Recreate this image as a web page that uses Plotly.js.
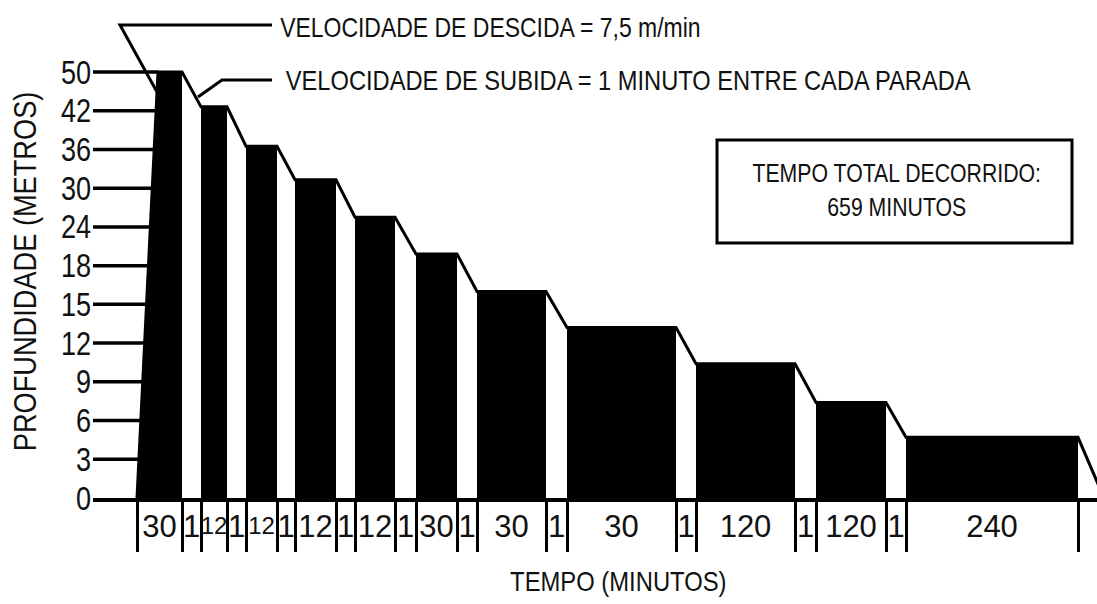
<!DOCTYPE html>
<html>
<head>
<meta charset="utf-8">
<script src="https://cdn.plot.ly/plotly-3.0.1.min.js"></script>
<style>
  html, body { margin: 0; padding: 0; background: #ffffff; }
  #chart { width: 1097px; height: 604px; }
</style>
</head>
<body>
<div id="chart"></div>
<script>
// ---- data ----
// depth tick labels of the (schematic, evenly spaced) depth axis
const depthTicks = [0, 3, 6, 9, 12, 15, 18, 24, 30, 36, 42, 50];
// segment labels along the time axis (minutes of each stop / ascent)
const segmentLabels = ['30','1','12','1','12','1','12','1','12','1','30','1','30','1','30','1','120','1','120','1','240','1'];
// schematic time positions of the segment boundaries (not to scale in the original)
const segmentEdges = [0, 45, 64, 90, 109, 140, 158, 199, 218, 258, 279, 320, 340, 409, 430, 539, 559, 658, 679, 749, 769, 941, 967];
// end of the descent on the schematic time axis
const descentEnd = 21;
// depth of each stop, as drawn
const stopDepths = [50, 42.8, 36.5, 31.3, 25.5, 19.8, 16.0, 13.2, 10.4, 7.4, 4.7];

// ---- helpers ----
const FONT = 'Liberation Sans, Arial, Helvetica, sans-serif';
const TXT = '#111111';
const W = 1097, H = 604, ML = 93, MR = 0, MT = 0, MB = 106;
const PW = W - ML - MR, PH = H - MT - MB;
const X0 = -44;                       // left end of schematic time axis
const PX_PER_LEVEL = 38.727;          // vertical spacing of depth ticks
const XFONT = 31, XFONT_SMALL = 24;   // time-axis label sizes (small one for the cramped slots)
function depthToLevel(d) {
  for (let i = 0; i < depthTicks.length - 1; i++) {
    const a = depthTicks[i], b = depthTicks[i + 1];
    if (d >= a && d <= b) return i + (d - a) / (b - a);
  }
  return depthTicks.length - 1;
}
const px2x = px => (px - ML) / PW;           // pixel -> paper x
const py2y = py => (H - MB - py) / PH;       // pixel -> paper y

const levels = stopDepths.map(depthToLevel);
const topLevel = levels[0];

// ---- black blocks (bottom time at each stop) ----
const fx = [], fy = [];
levels.forEach((L, k) => {
  const s = segmentEdges[2 * k], e = segmentEdges[2 * k + 1];
  if (k === 0) {
    fx.push(s, descentEnd, e, e, s, null);
  } else {
    fx.push(s, s, e, e, s, null);
  }
  fy.push(0, L, L, 0, 0, null);
});

// ---- profile line ----
const px = [segmentEdges[0], descentEnd], py = [0, topLevel];
levels.forEach((L, k) => {
  px.push(segmentEdges[2 * k + 1]); py.push(L);
  const nextL = k + 1 < levels.length ? levels[k + 1] : 0;
  px.push(segmentEdges[2 * k + 2]); py.push(nextL);
});

// ---- depth tick lines running up to the descent line ----
const tx = [], ty = [];
depthTicks.forEach((d, i) => {
  if (i === 0) return;
  tx.push(X0, descentEnd * i / topLevel, null);
  ty.push(i, i, null);
});

// ---- time axis tick labels: centred in each segment ----
const centers = segmentLabels.map((_, i) => (segmentEdges[i] + segmentEdges[i + 1]) / 2);
const slotWidths = segmentLabels.map((_, i) => segmentEdges[i + 1] - segmentEdges[i]);
const isCramped = segmentLabels.map((t, i) => 0.556 * XFONT * t.length > slotWidths[i]);
const wideVals = [], wideText = [], smallVals = [], smallText = [];
segmentLabels.forEach((t, i) => {
  if (isCramped[i]) { smallVals.push(centers[i]); smallText.push(t); }
  else { wideVals.push(centers[i]); wideText.push(t); }
});

const traces = [
  { type: 'scatter', mode: 'lines', x: fx, y: fy, fill: 'toself', fillcolor: '#000000',
    line: { width: 0, color: '#000000' }, hoverinfo: 'skip', showlegend: false },
  { type: 'scatter', mode: 'lines', x: tx, y: ty, line: { width: 3.5, color: '#000000' },
    hoverinfo: 'skip', showlegend: false, connectgaps: false },
  { type: 'scatter', mode: 'lines', x: px, y: py, line: { width: 3, color: '#000000' },
    hoverinfo: 'skip', showlegend: false },
  { type: 'scatter', mode: 'lines', x: [], y: [], xaxis: 'x2', yaxis: 'y',
    hoverinfo: 'skip', showlegend: false },
  { type: 'scatter', mode: 'lines', x: [], y: [], xaxis: 'x3', yaxis: 'y',
    hoverinfo: 'skip', showlegend: false }
];

// each annotation: text, centre (px), size, horizontal squeeze to mimic the condensed lettering
const annSpecs = [
  { text: 'VELOCIDADE DE DESCIDA = 7,5 m/min', x: 490, y: 27, size: 28, squeeze: 0.82 },
  { text: 'VELOCIDADE DE SUBIDA = 1 MINUTO ENTRE CADA PARADA', x: 628, y: 80, size: 28, squeeze: 0.845 },
  { text: 'TEMPO TOTAL DECORRIDO:', x: 896, y: 173, size: 25, squeeze: 0.85 },
  { text: '659 MINUTOS', x: 896, y: 207, size: 25, squeeze: 0.85 },
  { text: 'TEMPO (MINUTOS)', x: 618, y: 582, size: 28, squeeze: 0.85 },
  { text: 'PROFUNDIDADE (METROS)', x: 25, y: 272, size: 32, squeeze: 0.85, angle: -90 }
];
const annotations = annSpecs.map(a => ({
  text: a.text, xref: 'paper', yref: 'paper', x: px2x(a.x), y: py2y(a.y),
  xanchor: 'center', yanchor: 'middle', showarrow: false, textangle: a.angle || 0,
  font: { family: FONT, size: a.size, color: TXT }
}));

const pathPx = pts => pts.map((p, i) => (i ? 'L' : 'M') + px2x(p[0]).toFixed(5) + ',' + py2y(p[1]).toFixed(5)).join(' ');

const shapes = [
  { type: 'path', xref: 'paper', yref: 'paper', path: pathPx([[272, 25], [120, 25], [157, 92]]),
    line: { color: '#000000', width: 3 } },
  { type: 'path', xref: 'paper', yref: 'paper', path: pathPx([[272, 80], [222, 80], [198, 97]]),
    line: { color: '#000000', width: 3 } },
  { type: 'rect', xref: 'paper', yref: 'paper', x0: px2x(717), x1: px2x(1072), y0: py2y(140), y1: py2y(243),
    line: { color: '#000000', width: 3 }, fillcolor: 'rgba(0,0,0,0)' }
];

const labelAxis = (vals, text, size, standoff) => ({
  overlaying: 'x', anchor: 'y', side: 'bottom', range: [X0, X0 + PW],
  showgrid: false, zeroline: false, showline: false, ticks: '',
  tickmode: 'array', tickvals: vals, ticktext: text, tickangle: 0, ticklabelstandoff: standoff,
  tickfont: { family: FONT, size: size, color: TXT }, fixedrange: true
});

const layout = {
  width: W, height: H,
  margin: { l: ML, r: MR, t: MT, b: MB, pad: 0 },
  paper_bgcolor: '#ffffff', plot_bgcolor: '#ffffff',
  showlegend: false,
  xaxis: {
    range: [X0, X0 + PW], showgrid: false, zeroline: false,
    showline: true, linecolor: '#000000', linewidth: 4,
    ticks: 'outside', tickmode: 'array', tickvals: segmentEdges, ticklen: 50, tickwidth: 3, tickcolor: '#000000',
    showticklabels: false, fixedrange: true
  },
  xaxis2: labelAxis(wideVals, wideText, XFONT, 7),
  xaxis3: labelAxis(smallVals, smallText, XFONT_SMALL, 11),
  yaxis: {
    range: [0, PH / PX_PER_LEVEL], showgrid: false, zeroline: false, showline: false,
    ticks: '', tickmode: 'array', tickvals: depthTicks.map((_, i) => i), ticktext: depthTicks.map(String),
    tickfont: { family: FONT, size: 33, color: TXT }, ticklabelstandoff: 1, fixedrange: true
  },
  annotations: annotations,
  shapes: shapes
};

// condensed lettering like the original: squeeze text horizontally, keeping it real text
function condense(el, factor) {
  try {
    const len = el.getComputedTextLength();
    if (len > 0) {
      el.setAttribute('textLength', (len * factor).toFixed(2));
      el.setAttribute('lengthAdjust', 'spacingAndGlyphs');
    }
  } catch (e) {}
}

Plotly.newPlot('chart', traces, layout, { staticPlot: true, displayModeBar: false }).then(gd => {
  gd.querySelectorAll('.annotation-text').forEach(t => {
    const spec = annSpecs.find(a => a.text === t.textContent);
    if (spec) condense(t, spec.squeeze);
  });
  gd.querySelectorAll('.ytick text').forEach(t => condense(t, 0.82));
});
</script>
</body>
</html>
